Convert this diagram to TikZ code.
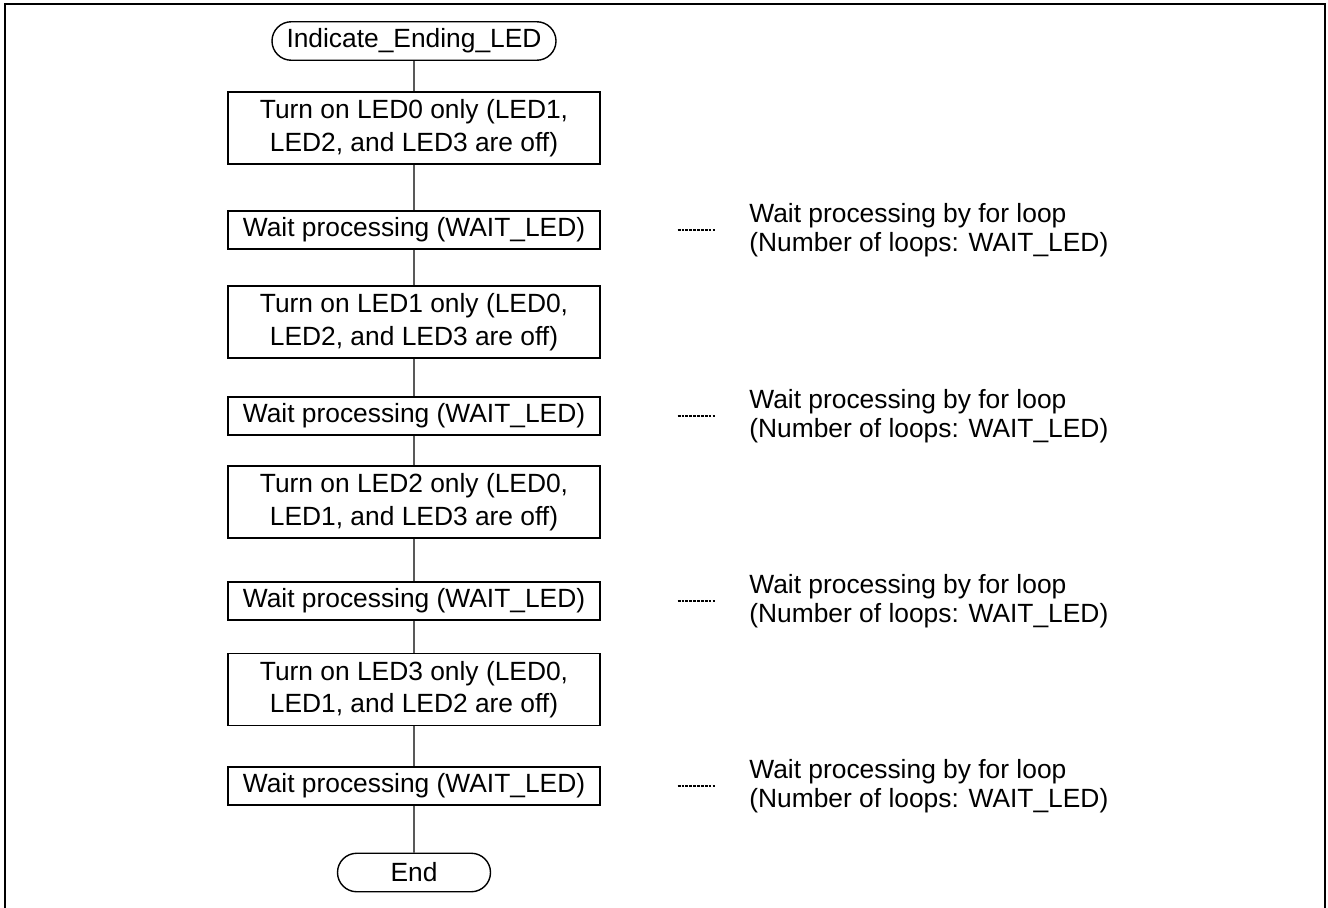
\documentclass[tikz,border=0pt]{standalone}
\usepackage{fontspec}
\setmainfont{Liberation Sans}
\usetikzlibrary{positioning,shapes.misc}

\begin{document}
\begin{tikzpicture}[line width=0.8pt,
    font=\fontsize{15}{18.5}\selectfont,
    procbox/.style={draw, minimum width=7.44cm, minimum height=1.44cm, align=center, inner sep=0pt},
    waitbox/.style={draw, minimum width=7.44cm, minimum height=0.76cm, inner sep=0pt},
    termbox/.style={draw, rounded rectangle, minimum height=0.77cm, inner sep=0pt},
    notetext/.style={anchor=west, align=left, inner sep=0pt, font=\fontsize{15}{16.2}\selectfont},
    dotline/.style={line width=1pt, dash pattern=on 1.6pt off 0.6pt}]
    \useasboundingbox (0,0) rectangle (26.56,-18.16);
    % frame (open at the bottom)
    \draw[line width=1.2pt] (0.1,-18.3) -- (0.1,-0.08) -- (26.5,-0.08) -- (26.5,-18.3);

    % flow
    \node[termbox, minimum width=5.68cm] (start) at (8.28,-0.82) {Indicate\_Ending\_LED};
    \node[procbox] (led0) at (8.28,-2.56) {Turn on LED0 only (LED1,\\LED2, and LED3 are off)};
    \node[waitbox] (wait0) at (8.28,-4.6) {Wait processing (WAIT\_LED)};
    \node[procbox] (led1) at (8.28,-6.44) {Turn on LED1 only (LED0,\\LED2, and LED3 are off)};
    \node[waitbox] (wait1) at (8.28,-8.32) {Wait processing (WAIT\_LED)};
    \node[procbox] (led2) at (8.28,-10.04) {Turn on LED2 only (LED0,\\LED1, and LED3 are off)};
    \node[waitbox] (wait2) at (8.28,-12.02) {Wait processing (WAIT\_LED)};
    \node[procbox] (led3) at (8.28,-13.79) {Turn on LED3 only (LED0,\\LED1, and LED2 are off)};
    \node[waitbox] (wait3) at (8.28,-15.72) {Wait processing (WAIT\_LED)};
    \node[termbox, minimum width=3.06cm] (end) at (8.28,-17.45) {End};

    % connectors
    \draw (start) -- (led0) -- (wait0) -- (led1) -- (wait1) -- (led2) -- (wait2) -- (led3) -- (wait3) -- (end);

    % notes on the wait boxes
    \foreach \i in {0,...,3} {
        \node[notetext] (note\i) at ([xshift=2.96cm]wait\i.east) {Wait processing by for loop\\(Number of loops: WAIT\_LED)};
        \coordinate (dl\i) at ([xshift=-1.42cm]note\i.west);
        \draw[dotline] (dl\i) -- ++(0.74,0);
    }
\end{tikzpicture}
\end{document}
